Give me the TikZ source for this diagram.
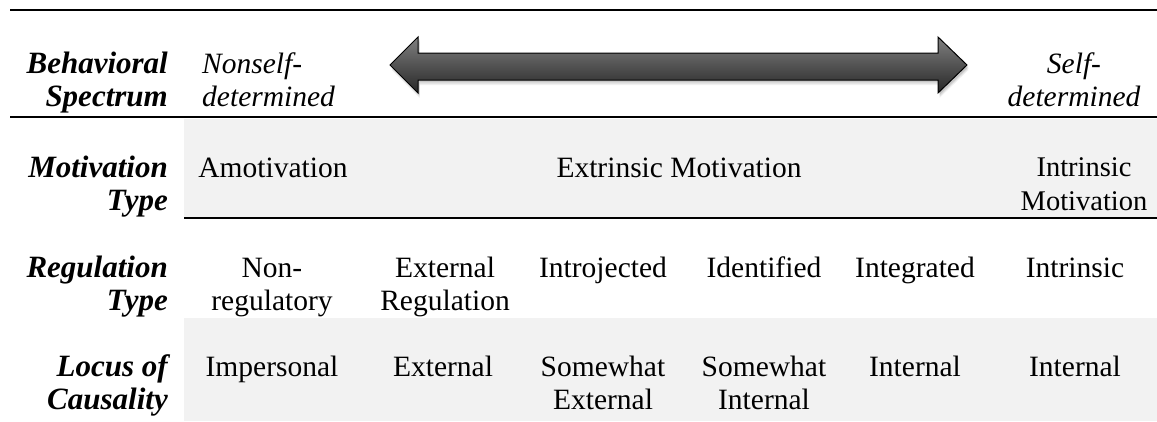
\documentclass[tikz,border=0pt]{standalone}
\usepackage{fontspec}
\setmainfont{Liberation Serif}
\definecolor{rowgray}{RGB}{242,242,242}
\newcommand\cellsize{\fontsize{29.5}{33}\selectfont}
\newcommand\labsize{\fontsize{31}{33}\selectfont}
\newcommand\smallcellsize{\fontsize{28.5}{33}\selectfont}
\tikzset{
  lab/.style={font=\labsize\bfseries\itshape, anchor=base east, inner sep=0pt},
  cell/.style={font=\cellsize, anchor=base, inner sep=0pt},
  smallcell/.style={font=\smallcellsize, anchor=base, inner sep=0pt},
  itcell/.style={font=\cellsize\itshape, anchor=base, inner sep=0pt},
  rule/.style={line width=2pt, black},
  band/.style={fill=rowgray, draw=none},
}
\begin{document}
\begin{tikzpicture}[x=1pt, y=-1pt]
\useasboundingbox (0,0) rectangle (1157,421);
% gray bands
\fill[band] (184,119) rectangle (1157,217);
\fill[band] (184,318) rectangle (1157,421);
% rules
\coordinate (r1a) at (10,10);  \coordinate (r1b) at (1157,10);
\coordinate (r2a) at (10,117); \coordinate (r2b) at (1157,117);
\coordinate (r3a) at (184,218); \coordinate (r3b) at (1157,218);
\draw[rule] (r1a) -- (r1b);
\draw[rule] (r2a) -- (r2b);
\draw[rule] (r3a) -- (r3b);
% arrow shadow
\foreach \o/\op in {2/0.10,3.5/0.08,5/0.06}{
  \fill[black, opacity=\op, shift={(1.5,\o)}]
    (390,65) -- (418,37) -- (418,53) -- (938,53) -- (938,37) -- (967,65)
    -- (938,93) -- (938,80) -- (418,80) -- (418,93) -- cycle;
}
% double arrow
\draw[line width=1pt, top color=black!50, middle color=black!36, bottom color=black!85]
  (390,65) -- (418,37) -- (418,53) -- (938,53) -- (938,37) -- (967,65)
  -- (938,93) -- (938,80) -- (418,80) -- (418,93) -- cycle;
% row labels
\node[lab] (beh1) at (168,73) {Behavioral};
\node[lab] (beh2) at (168,106) {Spectrum};
\node[lab] (mot1) at (168,177) {Motivation};
\node[lab] (mot2) at (168,210) {Type};
\node[lab] (reg1) at (168,277) {Regulation};
\node[lab] (reg2) at (168,310) {Type};
\node[lab] (loc1) at (168,376) {Locus of};
\node[lab] (loc2) at (168,409) {Causality};
% behavioral spectrum ends
\node[itcell, anchor=base west] (ns1) at (202,73) {Nonself-};
\node[itcell, anchor=base west] (ns2) at (202,106) {determined};
\node[itcell] (sd1) at (1074,73) {Self-};
\node[itcell] (sd2) at (1074,106) {determined};
% motivation type
\node[cell] (amot) at (273,177) {Amotivation};
\node[cell] (extr) at (679,177) {Extrinsic Motivation};
\node[smallcell] (intr1) at (1084,176) {Intrinsic};
\node[smallcell] (intr2) at (1084,210) {Motivation};
% regulation type
\node[cell] (nr1) at (272,277) {Non-};
\node[cell] (nr2) at (272,310) {regulatory};
\node[cell] (er1) at (445,277) {External};
\node[cell] (er2) at (445,310) {Regulation};
\node[cell] (ij) at (603,277) {Introjected};
\node[cell] (id) at (764,277) {Identified};
\node[cell] (ig) at (915,277) {Integrated};
\node[cell] (in) at (1075,277) {Intrinsic};
% locus of causality
\node[cell] (lc1) at (272,376) {Impersonal};
\node[cell] (lc2) at (443,376) {External};
\node[cell] (lc3a) at (603,376) {Somewhat};
\node[cell] (lc3b) at (603,409) {External};
\node[cell] (lc4a) at (764,376) {Somewhat};
\node[cell] (lc4b) at (764,409) {Internal};
\node[cell] (lc5) at (915,376) {Internal};
\node[cell] (lc6) at (1075,376) {Internal};
\end{tikzpicture}
\end{document}
